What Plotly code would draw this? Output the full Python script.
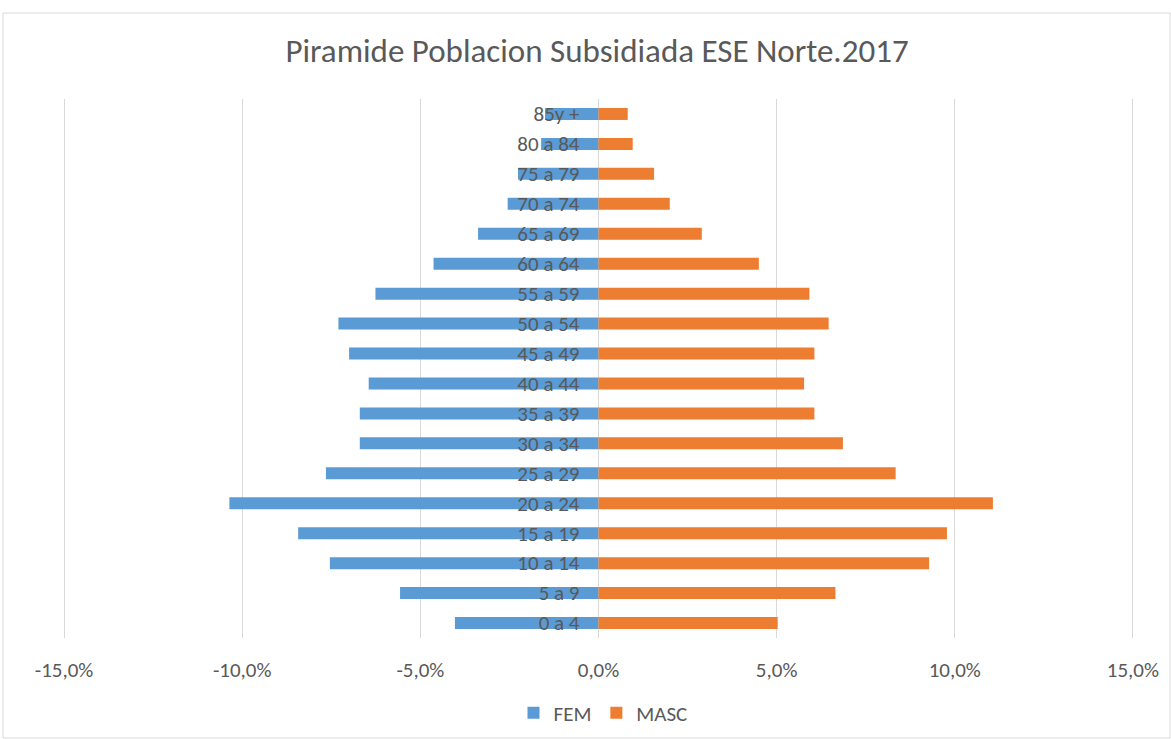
import plotly.graph_objects as go

categories = ["0 a 4", "5 a 9", "10 a 14", "15 a 19", "20 a 24", "25 a 29", "30 a 34",
              "35 a 39", "40 a 44", "45 a 49", "50 a 54", "55 a 59", "60 a 64",
              "65 a 69", "70 a 74", "75 a 79", "80 a 84", "85y +"]
fem = [-4.03, -5.57, -7.54, -8.43, -10.36, -7.65, -6.70, -6.70, -6.45, -7.00, -7.30,
       -6.26, -4.63, -3.38, -2.55, -2.26, -1.61, -1.50]
masc = [5.03, 6.65, 9.28, 9.78, 11.07, 8.34, 6.86, 6.06, 5.77, 6.06, 6.46, 5.92,
        4.50, 2.90, 2.00, 1.56, 0.96, 0.82]
tick_vals = [-15, -10, -5, 0, 5, 10, 15]
tick_text = ["-15,0%", "-10,0%", "-5,0%", "0,0%", "5,0%", "10,0%", "15,0%"]

FONT = "Calibri, Carlito, 'Open Sans', sans-serif"
TXT = "#595959"
GRID = "#d9d9d9"

fig = go.Figure()
fig.add_trace(go.Bar(y=categories, x=fem, orientation="h", name="FEM",
                     marker=dict(color="#5b9bd5", line=dict(width=0))))
fig.add_trace(go.Bar(y=categories, x=masc, orientation="h", name="MASC",
                     marker=dict(color="#ed7d31", line=dict(width=0))))

W, H = 1171, 739
L, R, T, B = 63, 37, 99, 101
pw, ph = W - L - R, H - T - B

def px(x):
    return (x - L) / pw

def py(y):
    return (H - B - y) / ph

fig.update_layout(
    width=W, height=H,
    margin=dict(l=L, r=R, t=T, b=B, autoexpand=False),
    paper_bgcolor="white", plot_bgcolor="white",
    barmode="overlay", bargap=0.6,
    font=dict(family=FONT, color=TXT, size=21),
    title=dict(text="Piramide Poblacion Subsidiada ESE Norte.2017",
               x=597 / W, xanchor="center", y=1 - 50 / H, yanchor="middle",
               font=dict(family=FONT, size=33, color=TXT)),
    xaxis=dict(range=[-15.03, 15.03], tickvals=tick_vals, ticktext=tick_text,
               showgrid=True, gridcolor=GRID, gridwidth=1,
               zeroline=True, zerolinecolor=GRID, zerolinewidth=1,
               showline=False, ticks="", ticklabelstandoff=17,
               tickfont=dict(size=21, color=TXT), fixedrange=True),
    yaxis=dict(type="category", categoryorder="array", categoryarray=categories,
               range=[-0.5, 17.5], anchor="free", position=0.5,
               showgrid=False, zeroline=False, showline=False, ticks="",
               ticklabelstandoff=19, tickfont=dict(size=21, color=TXT), fixedrange=True),
    showlegend=True,
    legend=dict(orientation="h", x=px(603), xanchor="center", y=py(713), yanchor="middle",
                font=dict(size=21, color=TXT), traceorder="normal",
                itemwidth=30, bgcolor="rgba(0,0,0,0)"),
    shapes=[
        dict(type="rect", xref="paper", yref="paper",
             x0=px(3), x1=px(1170), y0=py(738), y1=py(13),
             line=dict(color=GRID, width=1), fillcolor="rgba(0,0,0,0)", layer="below"),
    ],
)

fig.write_html("out.html", config={"displayModeBar": False},
               post_script="document.body.style.margin='0';")
